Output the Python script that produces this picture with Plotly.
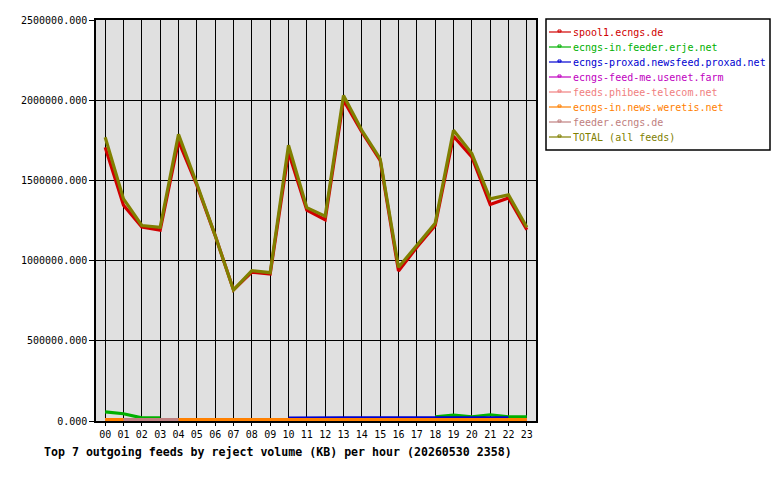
import plotly.graph_objects as go

hours = ["00", "01", "02", "03", "04", "05", "06", "07", "08", "09", "10", "11",
         "12", "13", "14", "15", "16", "17", "18", "19", "20", "21", "22", "23"]

feed_names = [
    "spool1.ecngs.de",
    "ecngs-in.feeder.erje.net",
    "ecngs-proxad.newsfeed.proxad.net",
    "ecngs-feed-me.usenet.farm",
    "feeds.phibee-telecom.net",
    "ecngs-in.news.weretis.net",
    "feeder.ecngs.de",
    "TOTAL (all feeds)",
]
feed_colors = ["#d00000", "#00b000", "#0000d0", "#c000c0",
               "#f08080", "#ff8000", "#c08080", "#808000"]

spool1 = [1706000, 1345000, 1210000, 1190000, 1745000, 1470000, 1156000, 817000,
          928000, 917000, 1675000, 1315000, 1255000, 2000000, 1802000, 1625000,
          935000, 1083000, 1219000, 1775000, 1646000, 1350000, 1390000, 1192000]
erje = [57000, 45000, 20000, 20000, None, None, None, None, None, None, None, None,
        None, None, None, None, None, None, 26000, 36000, 26000, 39000, 26000, 26000]
proxad = [None, None, None, None, None, None, None, None, None, None, 18000, 20000,
          20000, 20000, 20000, 20000, 20000, 20000, 20000, 20000, 20000, 20000, 20000, None]
usenet = [8000] * 24
phibee = [8000] * 24
weretis = [9000, 9000, 9000, 9000, 9000, 9000, 9000, 9000, 9000, 9000, 9000, 9000,
           9000, 9000, 9000, 9000, 9000, 9000, 9000, 9000, 9000, 9000, 9000, 9000]
feeder = [None, 9000, 9000, 9000, 9000, None, None, None, None, None, None, None,
          None, None, None, None, None, None, None, None, None, None, None, None]
total = [1769000, 1385000, 1219000, 1208000, 1787000, 1479000, 1156000, 817000,
         937000, 925000, 1719000, 1330000, 1277000, 2030000, 1812000, 1635000,
         958000, 1094000, 1233000, 1812000, 1667000, 1385000, 1410000, 1208000]

series = [spool1, erje, proxad, usenet, phibee, weretis, feeder, total]

fig = go.Figure()
for name, color, vals in zip(feed_names, feed_colors, series):
    fig.add_trace(go.Scatter(
        x=hours, y=vals, name=name, mode="lines",
        line=dict(color=color, width=3.2),
        showlegend=False, connectgaps=False,
    ))

mono = "DejaVu Sans Mono"
L, R, T, B = 96, 244, 20, 59
PW = 780 - L - R
PH = 480 - T - B


def px_x(p):
    return (p - L) / PW


def px_y(p):
    return (480 - B - p) / PH


shapes = []
annotations = []
# legend box
shapes.append(dict(type="rect", xref="paper", yref="paper",
                   x0=px_x(546), x1=px_x(770), y0=px_y(19), y1=px_y(150),
                   line=dict(color="black", width=1.5), fillcolor="white", layer="above"))
for i, (name, color) in enumerate(zip(feed_names, feed_colors)):
    cy = 32 + 15 * i
    shapes.append(dict(type="line", xref="paper", yref="paper",
                       x0=px_x(549), x1=px_x(571), y0=px_y(cy), y1=px_y(cy),
                       line=dict(color=color, width=1.2), layer="above"))
    shapes.append(dict(type="rect", xref="paper", yref="paper",
                       x0=px_x(558), x1=px_x(561), y0=px_y(cy), y1=px_y(cy - 2),
                       line=dict(color=color, width=1), layer="above"))
    annotations.append(dict(text=name, xref="paper", yref="paper",
                            x=px_x(571), y=px_y(cy), xanchor="left", yanchor="middle",
                            showarrow=False, font=dict(family=mono, size=10, color=color)))

annotations.append(dict(
    text="<b>Top 7 outgoing feeds by reject volume (KB) per hour (20260530 2358)</b>",
    xref="paper", yref="paper", x=px_x(42), y=px_y(452),
    xanchor="left", yanchor="middle", showarrow=False,
    font=dict(family=mono, size=11.6, color="black")))

fig.update_layout(
    width=780, height=480,
    margin=dict(l=L, r=R, t=T, b=B),
    paper_bgcolor="white", plot_bgcolor="#e0e0e0",
    font=dict(family=mono, size=10, color="black"),
    shapes=shapes, annotations=annotations,
    showlegend=False,
)
fig.update_xaxes(
    type="category", range=[-0.5, 23.5],
    showgrid=True, gridcolor="black", gridwidth=1,
    showline=True, linecolor="black", linewidth=1.5, mirror=True,
    ticks="outside", ticklen=3, tickcolor="black",
    tickfont=dict(family=mono, size=10, color="black"),
    zeroline=False,
)
fig.update_yaxes(
    range=[0, 2500000], tickvals=[0, 500000, 1000000, 1500000, 2000000, 2500000],
    tickformat=".3f",
    showgrid=True, gridcolor="black", gridwidth=1,
    showline=True, linecolor="black", linewidth=1.5, mirror=True,
    ticks="outside", ticklen=5, tickcolor="black",
    tickfont=dict(family=mono, size=10, color="black"),
    zeroline=False,
)

fig.write_html("out.html")
